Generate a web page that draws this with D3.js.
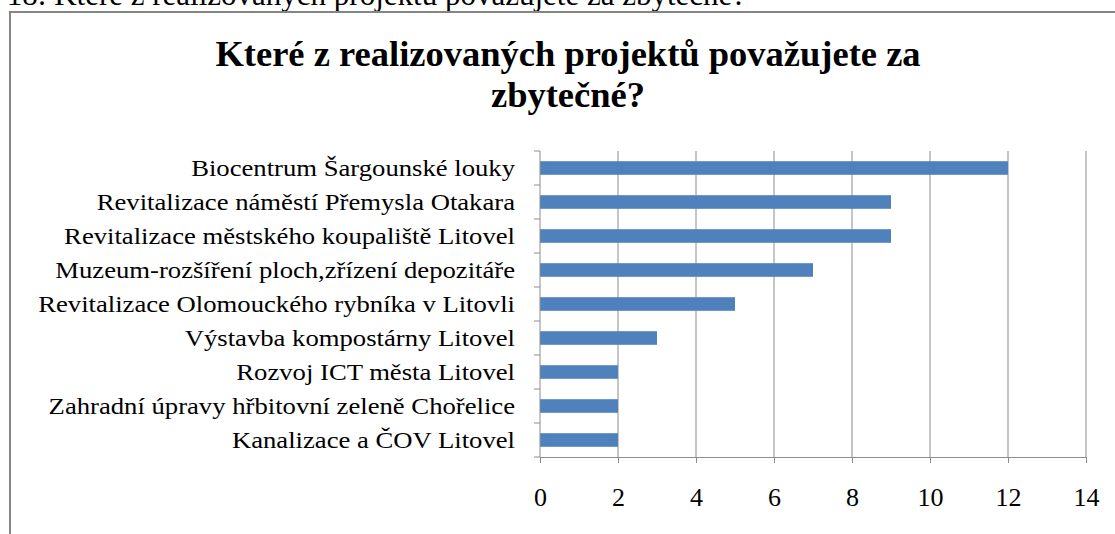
<!DOCTYPE html>
<html>
<head>
<meta charset="utf-8">
<script src="https://cdn.jsdelivr.net/npm/d3@7"></script>
<style>
html,body{margin:0;padding:0;background:#fff;overflow:hidden;}
svg{display:block;}
</style>
</head>
<body>
<svg id="chart" width="1115" height="534"></svg>
<script>
const categories = [
  "Biocentrum Šargounské louky",
  "Revitalizace náměstí Přemysla Otakara",
  "Revitalizace městského koupaliště Litovel",
  "Muzeum-rozšíření ploch,zřízení depozitáře",
  "Revitalizace Olomouckého rybníka v Litovli",
  "Výstavba kompostárny Litovel",
  "Rozvoj ICT města Litovel",
  "Zahradní úpravy hřbitovní zeleně Chořelice",
  "Kanalizace a ČOV Litovel"
];
const values = [12, 9, 9, 7, 5, 3, 2, 2, 2];
const xTicks = [0, 2, 4, 6, 8, 10, 12, 14];
const titleLines = ["Které z realizovaných projektů považujete za", "zbytečné?"];
const captionText = "Graf č. 18: Které z realizovaných projektů považujete za zbytečné?";

(function () {
const svg = d3.select("#chart");
const font = "'Liberation Serif','Times New Roman',serif";

// caption above chart (cut off at top, as in the source page)
svg.append("text").attr("x", -87).attr("y", 5)
  .attr("font-family", font).attr("font-size", 31).attr("fill", "#000")
  .text(captionText);

// chart frame
svg.append("rect").attr("x", 10).attr("y", 12).attr("width", 1130).attr("height", 540)
  .attr("fill", "#fff").attr("stroke", "#858585").attr("stroke-width", 2);

// title
svg.selectAll("text.title").data(titleLines).join("text")
  .attr("class", "title")
  .attr("x", 568).attr("y", (d, i) => 66 + i * 41)
  .attr("text-anchor", "middle")
  .attr("font-family", font).attr("font-size", 36.5).attr("font-weight", "bold")
  .attr("fill", "#000").text(d => d);

const pL = 540, pR = 1086, pT = 151, pB = 457;
const x = d3.scaleLinear().domain([0, 14]).range([pL, pR]);
const y = d3.scaleBand().domain(categories).range([pT, pB]).paddingInner(0.6).paddingOuter(0.3);

// gridlines
svg.append("g").selectAll("line").data(xTicks.slice(1)).join("line")
  .attr("x1", d => x(d)).attr("x2", d => x(d))
  .attr("y1", pT).attr("y2", pB)
  .attr("stroke", "#8c8c8c").attr("stroke-width", 1);

// bars
svg.append("g").selectAll("rect").data(categories).join("rect")
  .attr("x", x(0)).attr("y", d => y(d))
  .attr("width", (d, i) => x(values[i]) - x(0))
  .attr("height", y.bandwidth())
  .attr("fill", "#4f81bd");

// x axis
const xAxis = d3.axisBottom(x).tickValues(xTicks).tickSize(6).tickPadding(25).tickSizeOuter(0);
const gx = svg.append("g").attr("transform", `translate(0,${pB})`).call(xAxis);
gx.select(".domain").attr("stroke", "#8c8c8c");
gx.selectAll(".tick line").attr("stroke", "#8c8c8c");
gx.selectAll(".tick text").attr("font-family", font).attr("font-size", 26).attr("fill", "#000");

// y axis with ticks between categories
const step = (pB - pT) / categories.length;
const gy = svg.append("g");
gy.append("line").attr("x1", pL).attr("x2", pL).attr("y1", pT).attr("y2", pB).attr("stroke", "#8c8c8c");
gy.selectAll("line.yt").data(d3.range(categories.length + 1)).join("line")
  .attr("class", "yt")
  .attr("x1", pL - 6).attr("x2", pL)
  .attr("y1", i => pT + i * step).attr("y2", i => pT + i * step)
  .attr("stroke", "#8c8c8c");
gy.selectAll("text").data(categories).join("text")
  .attr("transform", d => `translate(515,${y(d) + y.bandwidth() / 2}) scale(1.16,1)`)
  .attr("dy", "0.35em").attr("text-anchor", "end")
  .attr("font-family", font).attr("font-size", 23).attr("fill", "#000")
  .text(d => d);
})();
</script>
</body>
</html>
